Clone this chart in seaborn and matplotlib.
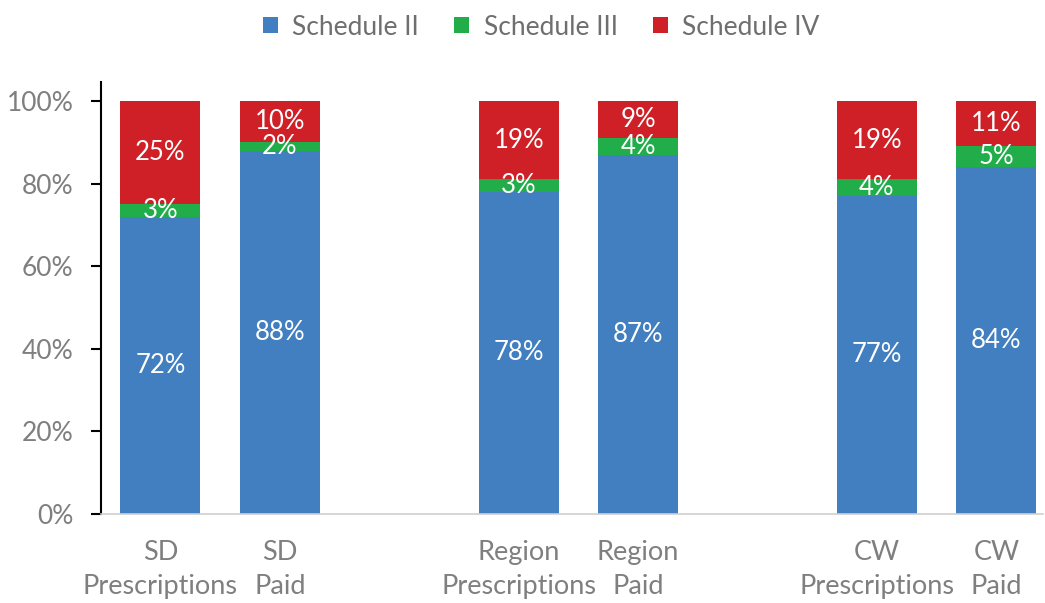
import numpy as np
import pandas as pd
import matplotlib
matplotlib.use("Agg")
import matplotlib.pyplot as plt
from matplotlib.patches import Patch
import seaborn as sns

# Chart data
categories = ["SD\nPrescriptions", "SD\nPaid", "Region\nPrescriptions", "Region\nPaid",
              "CW\nPrescriptions", "CW\nPaid"]
slots = [0, 1, 3, 4, 6, 7]
schedule_ii = [72, 88, 78, 87, 77, 84]
schedule_iii = [3, 2, 3, 4, 4, 5]
schedule_iv = [25, 10, 19, 9, 19, 11]

series_names = ["Schedule II", "Schedule III", "Schedule IV"]
colors = ["#417FC0", "#20AD4A", "#CE2026"]

sns.set_theme(style="white")
plt.rcParams['font.family'] = ['Lato', 'DejaVu Sans']

df = pd.DataFrame({
    "slot": slots,
    "ii": np.array(schedule_ii) / 100,
    "iii": np.array(schedule_iii) / 100,
    "iv": np.array(schedule_iv) / 100,
})
df["top_ii"] = df["ii"]
df["top_iii"] = df["ii"] + df["iii"]
df["top_iv"] = df["top_iii"] + df["iv"]

fig, ax = plt.subplots(figsize=(10.45, 6.03), dpi=100)
fig.subplots_adjust(left=0.097, right=0.998, bottom=0.148, top=0.864)

# Draw stacked bars as overlapping cumulative bars (tallest first)
for col, color in zip(["top_iv", "top_iii", "top_ii"], colors[::-1]):
    sns.barplot(data=df, x="slot", y=col, native_scale=True, color=color,
                width=0.67, saturation=1, ax=ax, errorbar=None, linewidth=0)

# Segment labels
seg_vals = [schedule_ii, schedule_iii, schedule_iv]
bottoms = [np.zeros(len(slots)), df["ii"].values, df["top_iii"].values]
for vals, bottom in zip(seg_vals, bottoms):
    for x, v, b in zip(slots, vals, bottom):
        ax.text(x, b + v / 200, f"{v}%", ha="center", va="center",
                color="white", fontsize=18.5)

ax.set_xlim(-0.495, 7.39)
ax.set_ylim(0, 1.046)
ax.set_yticks(np.arange(0, 1.01, 0.2))
ax.set_yticklabels([f"{int(round(t * 100))}%" for t in np.arange(0, 1.01, 0.2)])
ax.set_xticks(slots)
ax.set_xticklabels(categories, linespacing=1.45)
ax.set_xlabel("")
ax.set_ylabel("")

ax.tick_params(axis="y", left=True, length=7, width=1.5, color="black",
               labelsize=19, labelcolor="#7F7F7F", pad=13)
ax.tick_params(axis="x", bottom=False, labelsize=19.5, labelcolor="#7F7F7F", pad=13)

sns.despine(ax=ax, top=True, right=True)
ax.spines["left"].set_color("black")
ax.spines["left"].set_linewidth(1.5)
ax.spines["bottom"].set_color("#D0D0D0")
ax.spines["bottom"].set_linewidth(1.2)

handles = [Patch(facecolor=c, edgecolor="none") for c in colors]
fig.legend(handles, series_names, loc="upper center", bbox_to_anchor=(0.518, 1.015),
           ncol=3, frameon=False, fontsize=19, labelcolor="#6F6F6F",
           handlelength=0.55, handleheight=0.55, handletextpad=0.55, columnspacing=1.35)

fig.savefig("out.png", dpi=100)
